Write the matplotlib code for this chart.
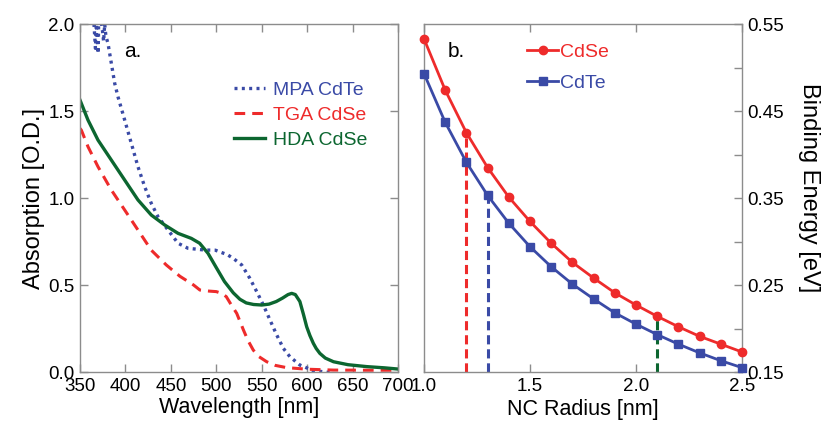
import numpy as np
import matplotlib
matplotlib.use("Agg")
import matplotlib.pyplot as plt
import matplotlib.ticker as ticker

plt.rcParams["font.family"] = ["Liberation Sans", "DejaVu Sans"]

BLUE = "#3a4aa6"
RED = "#ee2b2b"
GREEN = "#0c6630"
SPINE = "#8c8c8c"

# panel a: absorption spectra
mpa_wl = [355.8, np.nan, 365.4, 367, 368, 370, 370.5, 374, 376, 377.2, 378.5, 380.8, 384.5,
          388.2, 391.8, 399.2, 406.5, 413.8, 421.2, 428.5, 435.8, 446.9, 457.9, 468.9,
          487.2, 499, 504, 512, 518.7, 528, 537, 544.5, 551.8, 559, 566.5, 573.8, 581,
          592, 606.8, 627]
mpa_abs = [1.966, np.nan, 2.0, 1.86, 2.0, 1.83, 2.0, 2.0, 1.9, 2.0, 1.93, 1.889, 1.774,
           1.659, 1.582, 1.448, 1.314, 1.18, 1.065, 0.969, 0.893, 0.816, 0.74, 0.711,
           0.701, 0.70, 0.69, 0.675, 0.653, 0.615, 0.538, 0.462, 0.385, 0.30, 0.213, 0.136,
           0.088, 0.04, 0.008, -0.004]

tga_wl = [350, 351.5, 358.8, 369.8, 384.5, 399.2, 413.8, 428.5, 445, 460, 475, 482, 492,
          500, 506, 511, 516, 522.5, 530, 535, 540.7, 547, 555.5, 565, 577.5, 600, 629,
          670, 700]
tga_abs = [1.40, 1.39, 1.295, 1.18, 1.046, 0.931, 0.816, 0.70, 0.615, 0.55, 0.50, 0.471,
           0.465, 0.462, 0.452, 0.433, 0.39, 0.337, 0.24, 0.18, 0.126, 0.088, 0.059, 0.038,
           0.025, 0.016, 0.011, 0.01, 0.01]

hda_wl = [350, 358.8, 369.8, 384.5, 399.2, 413.8, 428.5, 443.2, 457.9, 472.5, 481.7,
          490.9, 500, 509, 518.7, 526, 533, 541, 550, 558, 566, 573, 579, 583, 587, 592,
          596, 599.5, 603, 606.8, 610, 614, 620, 629, 645, 665.5, 685, 700]
hda_abs = [1.563, 1.448, 1.333, 1.218, 1.103, 0.989, 0.902, 0.845, 0.797, 0.768, 0.74,
           0.682, 0.60, 0.52, 0.455, 0.418, 0.397, 0.388, 0.385, 0.39, 0.405, 0.425, 0.445,
           0.452, 0.445, 0.405, 0.33, 0.26, 0.21, 0.165, 0.135, 0.107, 0.08, 0.059, 0.042,
           0.031, 0.024, 0.017]

# panel b: binding energy vs radius
radius = [1.0, 1.1, 1.2, 1.3, 1.4, 1.5, 1.6, 1.7, 1.8, 1.9, 2.0, 2.1, 2.2, 2.3, 2.4, 2.5]
cdse_be = [0.533, 0.474, 0.425, 0.385, 0.351, 0.323, 0.298, 0.276, 0.258, 0.241, 0.227,
           0.214, 0.202, 0.191, 0.182, 0.173]
cdte_be = [0.493, 0.437, 0.391, 0.353, 0.321, 0.294, 0.271, 0.251, 0.234, 0.218, 0.205,
           0.193, 0.182, 0.172, 0.163, 0.155]

# dashed drop lines
drop_r = [1.2, 1.3, 2.1]
drop_e = [0.425, 0.353, 0.215]
drop_c = [RED, BLUE, GREEN]


def style_ax(ax):
    for spine in ax.spines.values():
        spine.set_edgecolor(SPINE)
        spine.set_linewidth(1.0)
    ax.tick_params(direction="in", length=6, width=1.0, color=SPINE,
                   labelsize=13.5, pad=4)


fig = plt.figure(figsize=(8.23, 4.25), dpi=100)

ax = fig.add_axes([0.0972, 0.1247, 0.3864, 0.8188])
style_ax(ax)
ax.plot(mpa_wl, mpa_abs, color=BLUE, lw=2.4, linestyle=(0, (0.9, 1.3)), label="MPA CdTe")
ax.plot(tga_wl, tga_abs, color=RED, lw=2.2, linestyle=(0, (3.5, 2.3)), label="TGA CdSe")
ax.plot(hda_wl, hda_abs, color=GREEN, lw=2.4, label="HDA CdSe")
ax.set_xlim(350, 700)
ax.set_ylim(0, 2.0)
ax.set_xticks(np.arange(350, 701, 50))
ax.set_yticks(np.arange(0, 2.01, 0.5))
ax.yaxis.set_major_formatter(ticker.FormatStrFormatter("%.1f"))
ax.tick_params(top=True, right=True)
ax.set_xlabel("Wavelength [nm]", fontsize=15.5, labelpad=2)
ax.set_ylabel("Absorption [O.D.]", fontsize=17, labelpad=2)
ax.text(0.14, 0.92, "a.", transform=ax.transAxes, fontsize=15, va="center")
leg = ax.legend(loc="upper left", bbox_to_anchor=(0.43, 0.885), frameon=False,
                fontsize=14, handlelength=1.6, handletextpad=0.4, labelspacing=0.38)
for txt, h in zip(leg.get_texts(), leg.get_lines()):
    txt.set_color(h.get_color())

ax2 = fig.add_axes([0.5152, 0.1247, 0.3864, 0.8188])
style_ax(ax2)
for r, e, c in zip(drop_r, drop_e, drop_c):
    ax2.plot([r, r], [0.15, e], color=c, lw=2.2, linestyle=(0, (3, 1.6)), zorder=1)
ax2.plot(radius, cdse_be, color=RED, lw=2.0, marker="o", markersize=6, label="CdSe",
         zorder=3, clip_on=False)
ax2.plot(radius, cdte_be, color=BLUE, lw=2.0, marker="s", markersize=6, label="CdTe",
         zorder=3, clip_on=False)
ax2.set_xlim(1.0, 2.5)
ax2.set_ylim(0.15, 0.55)
ax2.set_xticks([1.0, 1.5, 2.0, 2.5])
ax2.set_yticks(np.arange(0.15, 0.551, 0.05))
ax2.xaxis.set_major_formatter(ticker.FormatStrFormatter("%.1f"))
ax2.yaxis.set_major_formatter(
    ticker.FuncFormatter(lambda v, p: f"{v:.2f}" if p % 2 == 0 else ""))
ax2.yaxis.tick_right()
ax2.yaxis.set_label_position("right")
ax2.tick_params(top=True, left=False, right=True)
ax2.set_xlabel("NC Radius [nm]", fontsize=15.5, labelpad=3)
ax2.set_ylabel("Binding Energy [eV]", fontsize=17, rotation=270)
ax2.yaxis.set_label_coords(1.245, 0.53)
ax2.text(0.075, 0.92, "b.", transform=ax2.transAxes, fontsize=15, va="center")
leg2 = ax2.legend(loc="upper left", bbox_to_anchor=(0.27, 0.995), frameon=False,
                  fontsize=14, handlelength=1.6, handletextpad=0.1, labelspacing=0.7)
for txt, h in zip(leg2.get_texts(), leg2.get_lines()):
    txt.set_color(h.get_color())

fig.savefig("out.png", dpi=100)
